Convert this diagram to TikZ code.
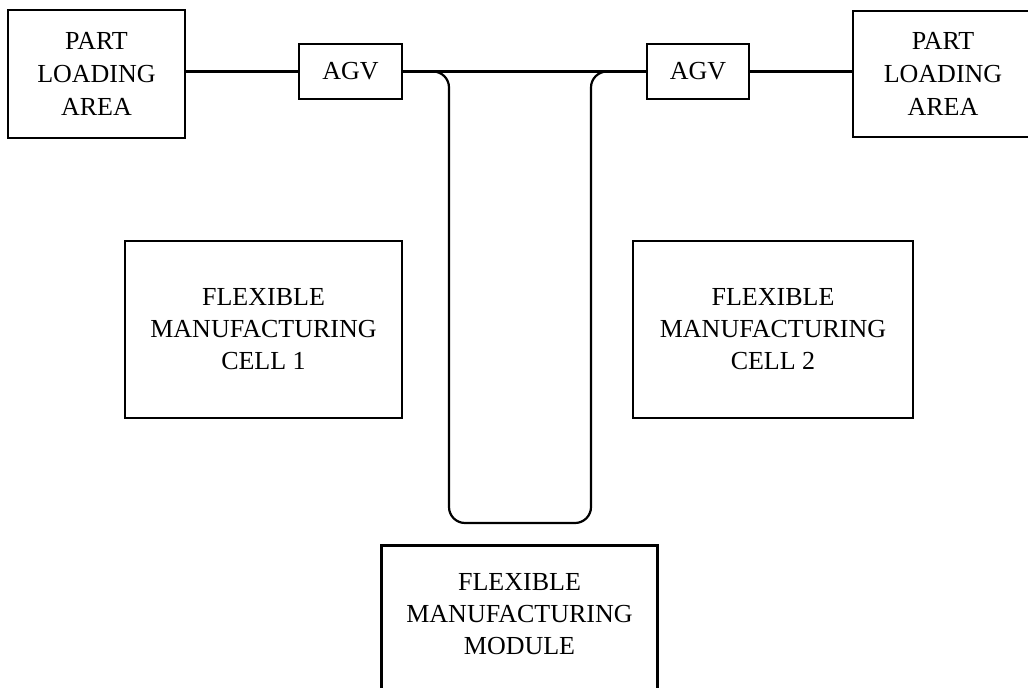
\documentclass[tikz,border=0pt]{standalone}
\usepackage{fontspec}
\setmainfont{Liberation Serif}
\begin{document}
\begin{tikzpicture}[x=1pt,y=-1pt,
  box/.style={draw, line width=2.6pt, align=center, inner sep=0pt, font=\fontsize{26}{32}\selectfont},
  plabox/.style={box, font=\fontsize{26}{33}\selectfont},
  track/.style={line width=2.2pt}]
\useasboundingbox (0,0) rectangle (1028,688);
\clip (0,0) rectangle (1028,688);
\fill[white] (0,0) rectangle (1028,688);
\node[plabox, minimum width=177pt, minimum height=128pt] (pla1) at (96.5,74) {PART\\LOADING\\AREA};
\node[box, minimum width=103pt, minimum height=55pt] (agv1) at (350.5,71.5) {AGV};
\node[box, minimum width=102pt, minimum height=55pt] (agv2) at (698,71.5) {AGV};
\node[plabox, minimum width=180pt, minimum height=126pt] (pla2) at (943,74) {PART\\LOADING\\AREA};
\node[box, minimum width=277pt, minimum height=177pt] (fmc1) at (263.5,329.5) {FLEXIBLE\\MANUFACTURING\\CELL 1};
\node[box, minimum width=280pt, minimum height=177pt] (fmc2) at (773,329.5) {FLEXIBLE\\MANUFACTURING\\CELL 2};
\node[box, draw=none, minimum width=273pt, minimum height=134pt] (fmm) at (519.5,614) {FLEXIBLE\\MANUFACTURING\\MODULE};
\draw[line width=2.6pt] ([yshift=-20pt]fmm.south west) -- (fmm.north west) -- (fmm.north east) -- ([yshift=-20pt]fmm.south east);
\draw[track] (agv1.west -| pla1.east) -- (agv1.west);
\draw[track] (agv1.east) -- (agv2.west);
\draw[track] (agv2.east) -- (agv2.east -| pla2.west);
\draw[track, rounded corners=16pt] (agv1.east) -- (449,71.5) -- (449,523) -- (591,523) -- (591,71.5) -- (agv2.west);
\end{tikzpicture}
\end{document}
